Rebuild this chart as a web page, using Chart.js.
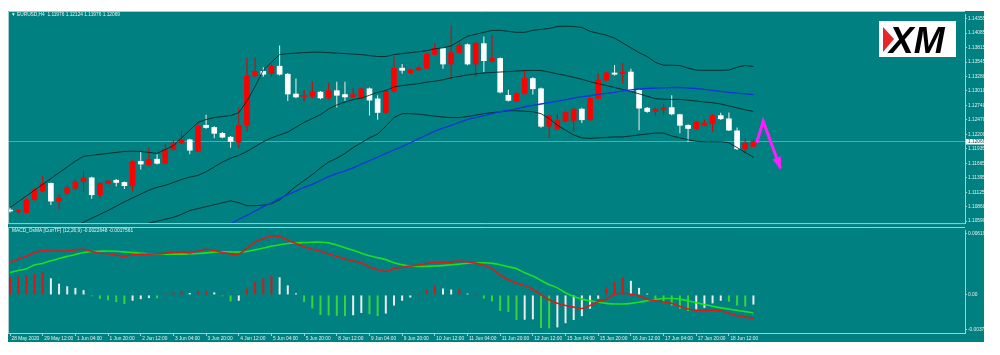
<!DOCTYPE html>
<html><head><meta charset="utf-8">
<script src="https://cdn.jsdelivr.net/npm/chart.js@4.4.1/dist/chart.umd.min.js"></script>
<style>
html,body{margin:0;padding:0;background:#fff;width:1000px;height:355px;overflow:hidden}
#frame{position:absolute;left:8px;top:11px;width:976px;height:331px;background:#008080}
#main{position:absolute;left:8px;top:11px;width:976px;height:216px}
#macd{position:absolute;left:8px;top:227px;width:976px;height:115px}
</style></head><body>
<div id="frame"></div>
<canvas id="main" width="976" height="216"></canvas>
<canvas id="macd" width="976" height="115"></canvas>
<script>
// ---------- DATA (EURUSD H4, 28 May 2020 20:00 .. 19 Jun 2020 00:00) ----------
const OPEN = [1.10795,1.10768,1.10750,1.10989,1.11151,1.11290,1.10961,1.11110,1.11200,1.11321,
1.11393,1.11079,1.11290,1.11349,1.11308,1.11249,1.11699,1.11637,1.11740,1.11663,
1.11920,1.12041,1.12100,1.11889,1.12370,1.12329,1.12221,1.12149,1.12059,1.12370,
1.13288,1.13373,1.13329,1.13468,1.13319,1.12951,1.12905,1.12910,1.12987,1.12879,
1.13013,1.12941,1.12897,1.12879,1.13049,1.12861,1.12609,1.13000,1.13432,1.13347,
1.13401,1.13432,1.13689,1.13797,1.13509,1.13720,1.13869,1.13509,1.13887,1.13558,
1.13612,1.12928,1.12820,1.12959,1.13239,1.13049,1.12352,1.12298,1.12447,1.12460,
1.12671,1.12473,1.12869,1.13211,1.13342,1.13329,1.13360,1.13018,1.12689,1.12627,
1.12658,1.12699,1.12568,1.12370,1.12311,1.12370,1.12401,1.12550,1.12491,1.12267,
1.11933,1.11976];
const HIGH = [1.10840,1.10804,1.11020,1.11200,1.11439,1.11308,1.11092,1.11254,1.11362,1.11529,
1.11416,1.11308,1.11353,1.11371,1.11326,1.11722,1.11871,1.11951,1.11830,1.12023,
1.12100,1.12267,1.12118,1.12424,1.12568,1.12352,1.12244,1.12172,1.12699,1.13630,
1.13630,1.13450,1.13504,1.13851,1.13342,1.13239,1.13031,1.13193,1.13009,1.13162,
1.13180,1.13180,1.13072,1.13072,1.13072,1.12928,1.13027,1.13648,1.13509,1.13423,
1.13459,1.13711,1.13900,1.13819,1.14229,1.13949,1.13891,1.13918,1.14021,1.14049,
1.13630,1.13031,1.12982,1.13391,1.13261,1.13072,1.12586,1.12586,1.12631,1.12694,
1.12694,1.12892,1.13329,1.13360,1.13491,1.13527,1.13419,1.13036,1.12712,1.12694,
1.12766,1.12928,1.12586,1.12388,1.12451,1.12478,1.12577,1.12604,1.12609,1.12329,
1.12131,1.12124];
const LOW = [1.10750,1.10732,1.10732,1.10966,1.11128,1.10889,1.10809,1.11074,1.11164,1.11141,
1.11007,1.11020,1.11272,1.11231,1.11187,1.11141,1.11547,1.11614,1.11641,1.11641,
1.11902,1.12019,1.11830,1.11866,1.12307,1.12131,1.12127,1.11951,1.11951,1.12249,
1.13270,1.13270,1.13270,1.13297,1.12820,1.12874,1.12820,1.12874,1.12856,1.12847,
1.12699,1.12820,1.12874,1.12856,1.12550,1.12473,1.12586,1.12982,1.13329,1.13324,
1.13387,1.13414,1.13666,1.13419,1.13221,1.13702,1.13486,1.13270,1.13360,1.13540,
1.12964,1.12811,1.12802,1.12937,1.12941,1.12325,1.12131,1.12280,1.12424,1.12249,
1.12411,1.12451,1.12847,1.13189,1.13297,1.13149,1.13000,1.12280,1.12604,1.12550,
1.12550,1.12559,1.12221,1.12059,1.12289,1.12352,1.12249,1.12469,1.12262,1.11911,
1.11848,1.11976];
const CLOSE = [1.10777,1.10777,1.10984,1.11159,1.11290,1.10961,1.11020,1.11213,1.11321,1.11393,
1.11079,1.11290,1.11331,1.11308,1.11249,1.11699,1.11650,1.11740,1.11663,1.11920,
1.12041,1.12100,1.11907,1.12357,1.12329,1.12221,1.12149,1.12069,1.12370,1.13288,
1.13373,1.13319,1.13468,1.13319,1.12951,1.12897,1.12915,1.12987,1.12879,1.13013,
1.12928,1.12897,1.12941,1.13049,1.12838,1.12609,1.13000,1.13432,1.13391,1.13401,
1.13437,1.13689,1.13797,1.13509,1.13720,1.13859,1.13509,1.13900,1.13571,1.13612,
1.12987,1.12833,1.12959,1.13239,1.13049,1.12352,1.12550,1.12460,1.12609,1.12671,
1.12473,1.12869,1.13211,1.13342,1.13319,1.13360,1.13018,1.12689,1.12627,1.12671,
1.12699,1.12581,1.12370,1.12311,1.12429,1.12411,1.12550,1.12491,1.12280,1.11933,
1.12041,1.12069];

// Bollinger bands (upper / middle / lower) and slow moving average
const BB_UPPER = [1.10840,1.10948,1.11056,1.11164,1.11272,1.11380,1.11488,1.11596,1.11704,1.11794,
1.11812,1.11830,1.11848,1.11866,1.11884,1.11889,1.11884,1.11866,1.11848,1.11920,
1.11992,1.12136,1.12280,1.12424,1.12478,1.12514,1.12532,1.12550,1.12604,1.12820,
1.13090,1.13396,1.13540,1.13684,1.13702,1.13711,1.13720,1.13729,1.13729,1.13720,
1.13711,1.13702,1.13693,1.13684,1.13666,1.13648,1.13648,1.13684,1.13702,1.13720,
1.13738,1.13756,1.13792,1.13810,1.13846,1.13936,1.14026,1.14062,1.14098,1.14134,
1.14134,1.14116,1.14098,1.14098,1.14134,1.14152,1.14170,1.14206,1.14211,1.14206,
1.14188,1.14116,1.14080,1.14044,1.13990,1.13900,1.13810,1.13720,1.13648,1.13540,
1.13486,1.13486,1.13481,1.13432,1.13396,1.13391,1.13391,1.13391,1.13396,1.13450,
1.13481,1.13463];
const BB_MIDDLE = [null,null,null,null,null,null,null,null,
1.10498,1.10570,1.10642,1.10714,1.10786,1.10867,1.10948,1.11020,1.11092,1.11164,
1.11218,1.11254,1.11308,1.11362,1.11407,1.11439,1.11506,1.11596,1.11686,1.11758,
1.11812,1.11884,1.11974,1.12064,1.12136,1.12190,1.12244,1.12334,1.12424,1.12496,
1.12568,1.12676,1.12748,1.12802,1.12847,1.12874,1.12928,1.12982,1.13018,1.13081,
1.13108,1.13126,1.13144,1.13171,1.13189,1.13216,1.13252,1.13279,1.13306,1.13324,
1.13342,1.13351,1.13360,1.13369,1.13378,1.13387,1.13391,1.13387,1.13360,1.13324,
1.13297,1.13261,1.13225,1.13180,1.13144,1.13108,1.13072,1.13036,1.13000,1.12955,
1.12910,1.12865,1.12856,1.12851,1.12851,1.12838,1.12820,1.12802,1.12789,1.12766,
1.12730,1.12694,1.12658,1.12627];
const BB_LOWER = [null,null,null,null,null,null,null,null,null,null,null,null,null,null,null,null,
1.10498,1.10552,1.10588,1.10624,1.10660,1.10714,1.10786,1.10822,1.10858,1.10894,
1.10930,1.10966,1.10930,1.10876,1.10876,1.10885,1.10912,1.10984,1.11110,1.11236,
1.11344,1.11452,1.11578,1.11686,1.11758,1.11848,1.11956,1.12046,1.12136,1.12208,
1.12352,1.12514,1.12586,1.12586,1.12577,1.12559,1.12541,1.12523,1.12514,1.12514,
1.12532,1.12559,1.12586,1.12604,1.12622,1.12640,1.12640,1.12631,1.12622,1.12586,
1.12496,1.12370,1.12280,1.12190,1.12136,1.12127,1.12136,1.12145,1.12154,1.12154,
1.12172,1.12190,1.12208,1.12226,1.12226,1.12172,1.12136,1.12100,1.12073,1.12064,
1.12064,1.12064,1.12046,1.11956,1.11866,1.11776];
const MA_SLOW = [null,null,null,null,null,null,null,null,null,null,null,null,null,
null,null,null,null,null,null,null,null,null,null,null,null,null,
1.10462,1.10534,1.10624,1.10696,1.10777,1.10858,1.10930,1.11011,1.11083,1.11146,
1.11218,1.11272,1.11344,1.11416,1.11470,1.11524,1.11578,1.11650,1.11713,1.11776,
1.11848,1.11911,1.11974,1.12046,1.12118,1.12190,1.12262,1.12316,1.12370,1.12424,
1.12478,1.12514,1.12550,1.12586,1.12622,1.12649,1.12676,1.12712,1.12739,1.12766,
1.12793,1.12820,1.12847,1.12874,1.12901,1.12919,1.12946,1.12964,1.12982,1.13009,
1.13027,1.13045,1.13054,1.13063,1.13067,1.13072,1.13072,1.13063,1.13054,1.13036,
1.13018,1.13000,1.12982,1.12968,1.12955,1.12941];

// MACD_OsMA (12,26,9)
const MACD_MAIN = [0.00320,0.00349,0.00377,0.00414,0.00433,0.00430,0.00430,0.00430,0.00443,0.00446,
0.00424,0.00408,0.00402,0.00389,0.00377,0.00393,0.00396,0.00399,0.00402,0.00408,
0.00414,0.00418,0.00411,0.00427,0.00446,0.00433,0.00414,0.00399,0.00399,0.00455,
0.00518,0.00550,0.00575,0.00571,0.00534,0.00502,0.00471,0.00446,0.00427,0.00399,
0.00377,0.00352,0.00333,0.00314,0.00273,0.00248,0.00232,0.00257,0.00270,0.00283,
0.00292,0.00308,0.00317,0.00317,0.00323,0.00330,0.00323,0.00311,0.00289,0.00257,
0.00195,0.00148,0.00116,0.00091,0.00053,0.00000,-0.00047,-0.00082,-0.00104,-0.00119,
-0.00132,-0.00104,-0.00063,-0.00041,0.00006,0.00016,0.00006,-0.00009,-0.00041,-0.00057,
-0.00069,-0.00082,-0.00113,-0.00138,-0.00151,-0.00151,-0.00148,-0.00157,-0.00176,-0.00204,
-0.00217,-0.00226];
const MACD_SIGNAL = [0.00220,0.00239,0.00257,0.00292,0.00308,0.00333,0.00355,0.00377,0.00396,0.00414,
0.00424,0.00427,0.00430,0.00427,0.00421,0.00414,0.00408,0.00402,0.00402,0.00399,
0.00399,0.00399,0.00402,0.00405,0.00411,0.00418,0.00421,0.00421,0.00418,0.00424,
0.00440,0.00458,0.00477,0.00490,0.00502,0.00509,0.00512,0.00515,0.00515,0.00509,
0.00487,0.00462,0.00436,0.00408,0.00383,0.00364,0.00345,0.00314,0.00295,0.00283,
0.00279,0.00279,0.00283,0.00286,0.00295,0.00301,0.00311,0.00314,0.00314,0.00308,
0.00295,0.00276,0.00257,0.00217,0.00185,0.00141,0.00100,0.00069,0.00022,-0.00016,
-0.00041,-0.00057,-0.00072,-0.00082,-0.00088,-0.00088,-0.00082,-0.00072,-0.00057,-0.00044,
-0.00035,-0.00035,-0.00041,-0.00057,-0.00075,-0.00094,-0.00110,-0.00126,-0.00138,-0.00151,
-0.00163,-0.00176];
const OSMA = [0.00173,0.00179,0.00195,0.00210,0.00220,0.00163,0.00110,0.00085,0.00069,0.00047,
-0.00013,-0.00038,-0.00053,-0.00069,-0.00088,-0.00057,-0.00041,-0.00031,-0.00033,0.00006,
0.00025,0.00038,0.00019,0.00038,0.00041,0.00025,-0.00013,-0.00063,-0.00057,0.00063,
0.00132,0.00163,0.00188,0.00173,0.00094,0.00016,-0.00069,-0.00132,-0.00195,-0.00201,
-0.00204,-0.00207,-0.00198,-0.00176,-0.00188,-0.00207,-0.00182,-0.00104,-0.00057,-0.00025,
0.00013,0.00053,0.00085,0.00063,0.00053,0.00060,0.00013,0.00016,-0.00035,-0.00063,
-0.00157,-0.00166,-0.00245,-0.00242,-0.00239,-0.00323,-0.00327,-0.00317,-0.00276,-0.00245,
-0.00207,-0.00135,-0.00038,0.00075,0.00132,0.00170,0.00138,0.00069,0.00013,-0.00057,
-0.00072,-0.00104,-0.00135,-0.00157,-0.00144,-0.00126,-0.00082,-0.00057,-0.00066,-0.00104,
-0.00113,-0.00094];

// forecast arrow (bar index, price)
const ARROW_X = [91.4, 92.2, 94.3];
const ARROW_Y = [1.12046, 1.12447, 1.11573];

// axis labels
const TIME_LABELS = ["28 May 2020","29 May 12:00","1 Jun 04:00","1 Jun 20:00","2 Jun 12:00","3 Jun 04:00",
"3 Jun 20:00","4 Jun 12:00","5 Jun 04:00","5 Jun 20:00","8 Jun 12:00","9 Jun 04:00","9 Jun 20:00",
"10 Jun 12:00","11 Jun 04:00","11 Jun 20:00","12 Jun 12:00","15 Jun 04:00","15 Jun 20:00",
"16 Jun 12:00","17 Jun 04:00","17 Jun 20:00","18 Jun 12:00"];
const BARS_PER_LABEL = 4;
const PRICE_TICKS = [1.14355,1.14085,1.13815,1.13545,1.13280,1.13010,1.12740,1.12470,1.12200,
1.11935,1.11665,1.11395,1.11125,1.10860,1.10590];
const MACD_TICK_VALUES = [0.00602, 0, -0.00339];
const MACD_TICK_LABELS = ["0.00619","0.00","-0.00378"];
const MACD_TITLE = "MACD_OsMA [CurrTF] (12,26,9) -0.0022648 -0.0017561";
const SYMBOL = "EURUSD,H4";

// ---------- CHARTS ----------
Chart.defaults.font.family = 'Liberation Sans';
const N = CLOSE.length;
const IDX = CLOSE.map((_, i) => i);
const XMIN = -0.25, XMAX = 116.9;
const AX_COL = '#e4f0f0';
const LINE_COL = '#a8cccc';
const TICK_FONT = {family:'Liberation Sans', size:4.8};
const pts = arr => arr.map((v,i) => v == null ? null : {x:i, y:v}).filter(p => p);
const up = i => CLOSE[i] >= OPEN[i];

const mainDeco = {
  id:'mainDeco',
  beforeDatasetsDraw(chart){
    const {ctx, chartArea:a, scales:{y}} = chart;
    const py = Math.round(y.getPixelForValue(CLOSE[N-1])) + 0.5;
    ctx.save();
    ctx.strokeStyle = 'rgba(160,200,200,0.55)'; ctx.lineWidth = 1;
    ctx.beginPath(); ctx.moveTo(a.left, py); ctx.lineTo(a.right, py); ctx.stroke();
    ctx.restore();
  },
  afterDatasetsDraw(chart){
    const {ctx, scales:{x, y}} = chart;
    const n = ARROW_X.length;
    const x1 = x.getPixelForValue(ARROW_X[n-2]), y1 = y.getPixelForValue(ARROW_Y[n-2]);
    const x2 = x.getPixelForValue(ARROW_X[n-1]), y2 = y.getPixelForValue(ARROW_Y[n-1]);
    const ang = Math.atan2(y2-y1, x2-x1), L = 11, W = 4.5;
    const bx = x2 - L*Math.cos(ang), by = y2 - L*Math.sin(ang);
    ctx.save();
    ctx.fillStyle = '#ff1cff';
    ctx.beginPath();
    ctx.moveTo(x2 + 1.5*Math.cos(ang), y2 + 1.5*Math.sin(ang));
    ctx.lineTo(bx + W*Math.sin(ang), by - W*Math.cos(ang));
    ctx.lineTo(bx - W*Math.sin(ang), by + W*Math.cos(ang));
    ctx.closePath(); ctx.fill();
    ctx.restore();
  },
  afterDraw(chart){
    const {ctx, chartArea:a, scales:{y}} = chart;
    ctx.save();
    // frame
    ctx.strokeStyle = LINE_COL; ctx.lineWidth = 1;
    ctx.beginPath();
    ctx.moveTo(0.5, a.bottom + 0.5); ctx.lineTo(0.5, 0.5); ctx.lineTo(a.right, 0.5);
    ctx.moveTo(0, a.bottom + 0.5); ctx.lineTo(a.right, a.bottom + 0.5);
    ctx.stroke();
    // header
    ctx.fillStyle = '#e8f2f2'; ctx.font = '4.8px "Liberation Sans"'; ctx.textBaseline = 'middle';
    ctx.fillText('\u25BC', 3, 4);
    ctx.fillText(SYMBOL + '  ' + [OPEN[N-1], HIGH[N-1], LOW[N-1], CLOSE[N-1]].map(v => v.toFixed(5)).join(' '), 9, 4);
    // current price tag
    const py = y.getPixelForValue(CLOSE[N-1]);
    ctx.fillStyle = '#ffffff'; ctx.fillRect(a.right + 1, py - 2.5, 19, 5.5);
    ctx.fillStyle = '#104848'; ctx.fillText(CLOSE[N-1].toFixed(5), a.right + 3, py + 0.3);
    // XM logo
    const lx = a.right - 86, ly = 10;
    ctx.fillStyle = '#ffffff'; ctx.fillRect(lx, ly, 77, 36);
    ctx.fillStyle = '#e8262a';
    ctx.beginPath(); ctx.moveTo(lx + 4, ly + 6); ctx.lineTo(lx + 15, ly + 18); ctx.lineTo(lx + 4, ly + 31); ctx.closePath(); ctx.fill();
    ctx.fillStyle = '#000000'; ctx.font = 'italic bold 37px "Liberation Sans"'; ctx.textBaseline = 'alphabetic';
    ctx.fillText('XM', lx + 10, ly + 32);
    ctx.restore();
  }
};

new Chart(document.getElementById('main'), {
  type:'bar',
  data:{datasets:[
    {type:'line', data: ARROW_X.map((v,i) => ({x:v, y:ARROW_Y[i]})), borderColor:'#ff1cff', borderWidth:3,
     pointRadius:0, tension:0, order:0},
    {type:'line', data: pts(MA_SLOW), borderColor:'#1434d8', borderWidth:1.3, pointRadius:0, tension:0, order:1},
    {type:'line', data: pts(BB_UPPER), borderColor:'rgba(8,30,30,0.85)', borderWidth:1, pointRadius:0, tension:0, order:2},
    {type:'line', data: pts(BB_MIDDLE), borderColor:'rgba(8,30,30,0.85)', borderWidth:1, pointRadius:0, tension:0, order:3},
    {type:'line', data: pts(BB_LOWER), borderColor:'rgba(8,30,30,0.85)', borderWidth:1, pointRadius:0, tension:0, order:4},
    {data: IDX.map(i => ({x:i, y:[OPEN[i], CLOSE[i]]})), backgroundColor: IDX.map(i => up(i) ? '#ff0000' : '#ffffff'),
     barThickness:5, grouped:false, minBarLength:1, order:5},
    {data: IDX.map(i => ({x:i, y:[LOW[i], HIGH[i]]})), backgroundColor: IDX.map(i => up(i) ? '#e00000' : '#f2f2f2'),
     barThickness:1, grouped:false, inflateAmount:0, order:6}
  ]},
  options:{
    responsive:false, animation:false, devicePixelRatio:1,
    layout:{padding:{left:0, right:0, top:0, bottom:1}},
    plugins:{legend:{display:false}, tooltip:{enabled:false}},
    scales:{
      x:{type:'linear', min:XMIN, max:XMAX, display:false, offset:false},
      y:{position:'right', min:1.10552, max:1.14422,
         afterFit: s => { s.width = 19; },
         afterBuildTicks: s => { s.ticks = PRICE_TICKS.map(v => ({value:v})); },
         ticks:{callback: v => Number(v).toFixed(5), color:AX_COL, font:TICK_FONT, padding:1, autoSkip:false},
         grid:{drawOnChartArea:false, tickLength:2, color:LINE_COL},
         border:{display:true, color:LINE_COL}}
    }
  },
  plugins:[mainDeco]
});

const macdDeco = {
  id:'macdDeco',
  afterDraw(chart){
    const {ctx, chartArea:a} = chart;
    ctx.save();
    ctx.strokeStyle = LINE_COL; ctx.lineWidth = 1;
    ctx.beginPath();
    ctx.moveTo(0.5, a.bottom); ctx.lineTo(0.5, 0.5); ctx.lineTo(a.right, 0.5);
    ctx.stroke();
    ctx.fillStyle = '#e8f2f2'; ctx.font = '4.8px "Liberation Sans"'; ctx.textBaseline = 'middle';
    ctx.fillText(MACD_TITLE, 4, 4);
    ctx.restore();
  }
};

const osmaColors = OSMA.map((v,i) => {
  const prev = i > 0 ? OSMA[i-1] : -Infinity;
  if (v > 0) return v >= prev ? '#d81818' : '#ececec';
  return v < prev ? '#3cd23c' : '#ececec';
});

new Chart(document.getElementById('macd'), {
  type:'bar',
  data:{datasets:[
    {type:'line', data: pts(MACD_MAIN), borderColor:'#dc1a1a', borderWidth:1.6, pointRadius:0, tension:0.2, order:0},
    {type:'line', data: pts(MACD_SIGNAL), borderColor:'#1ee01e', borderWidth:1.6, pointRadius:0, tension:0.2, order:1},
    {data: pts(OSMA), backgroundColor: osmaColors, barThickness:2, grouped:false, minBarLength:1, inflateAmount:0, order:2}
  ]},
  options:{
    responsive:false, animation:false, devicePixelRatio:1,
    layout:{padding:0},
    plugins:{legend:{display:false}, tooltip:{enabled:false}},
    scales:{
      x:{type:'linear', min:XMIN, max:XMAX, offset:false,
         afterFit: s => { s.height = 9; },
         afterBuildTicks: s => { s.ticks = TIME_LABELS.map((_,k) => ({value:k*BARS_PER_LABEL})); },
         ticks:{callback:(v,i) => TIME_LABELS[i], autoSkip:false, maxRotation:0, minRotation:0, align:'start',
                labelOffset:1.5, padding:0, color:AX_COL, font:TICK_FONT},
         grid:{drawOnChartArea:false, tickLength:3, color:LINE_COL, offset:false},
         border:{display:true, color:LINE_COL}},
      y:{position:'right', min:-0.003717, max:0.006258,
         afterFit: s => { s.width = 19; },
         afterBuildTicks: s => { s.ticks = MACD_TICK_VALUES.map(v => ({value:v})); },
         ticks:{callback:(v,i) => MACD_TICK_LABELS[i], color:AX_COL, font:TICK_FONT, padding:1, autoSkip:false},
         grid:{drawOnChartArea:false, tickLength:2, color:LINE_COL},
         border:{display:true, color:LINE_COL}}
    }
  },
  plugins:[macdDeco]
});
</script>
</body></html>
